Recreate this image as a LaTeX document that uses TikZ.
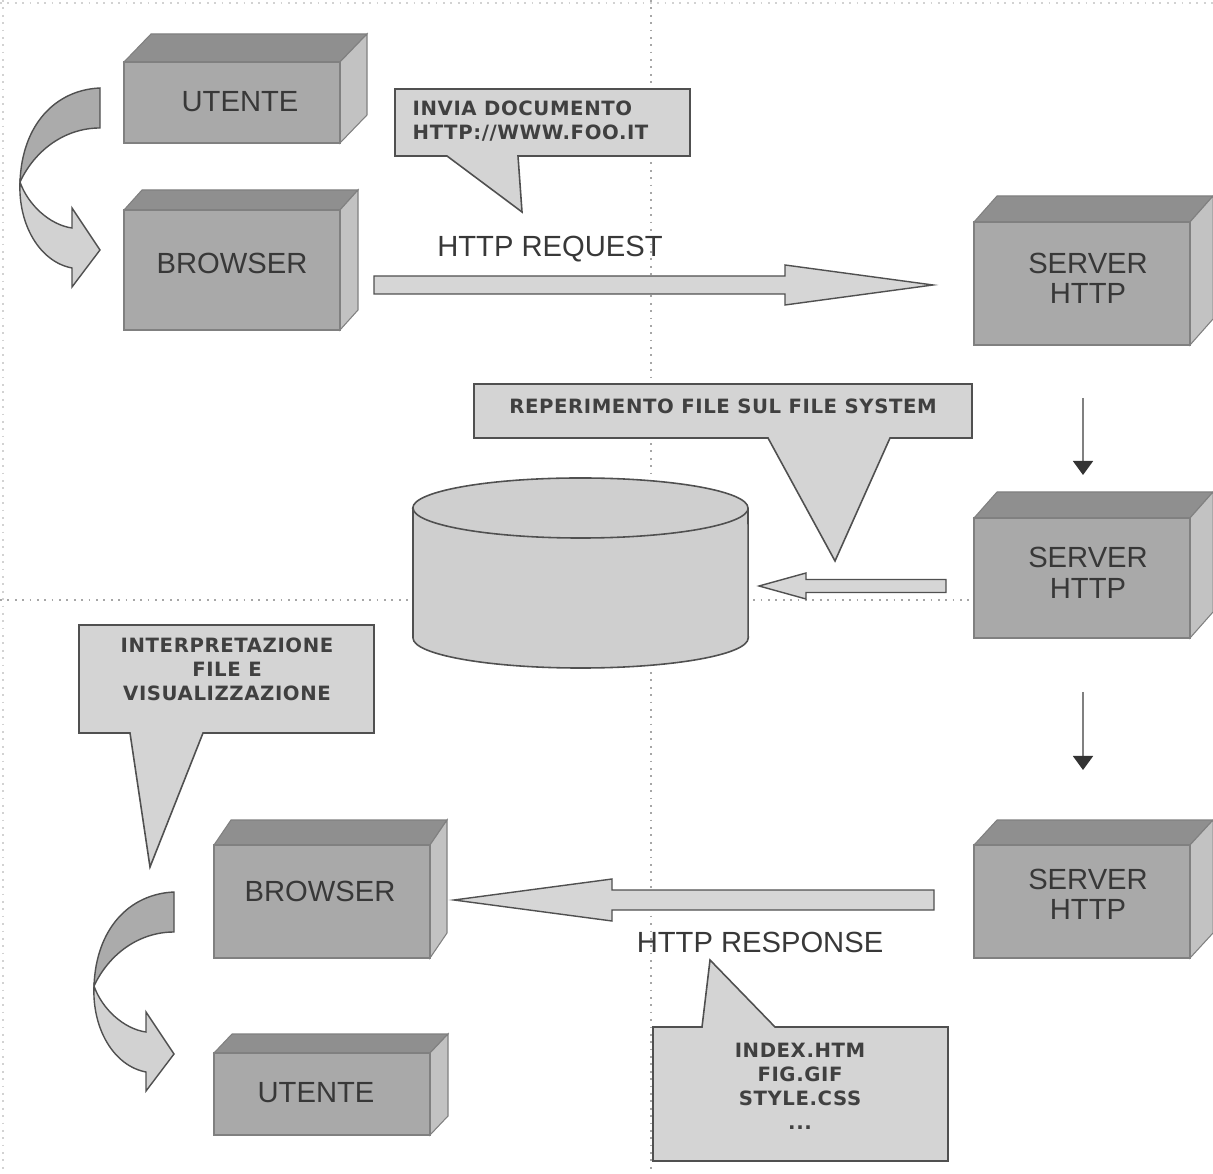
\documentclass[tikz,border=0pt]{standalone}
\usepackage{fontspec}
\setmainfont{Liberation Sans}
\newfontfamily\callfont{DejaVu Sans}[LetterSpace=3]
\usetikzlibrary{arrows.meta,calc}
\definecolor{cFront}{HTML}{A9A9A9}
\definecolor{cTop}{HTML}{8F8F8F}
\definecolor{cSide}{HTML}{C2C2C2}
\definecolor{cEdge}{HTML}{808080}
\definecolor{cCall}{HTML}{D4D4D4}
\definecolor{cOut}{HTML}{505050}
\definecolor{cArrow}{HTML}{D6D6D6}
\definecolor{cText}{HTML}{383838}
\definecolor{cCallText}{HTML}{404040}
\definecolor{cCyl}{HTML}{CFCFCF}
\definecolor{cDark}{HTML}{ABABAB}
\definecolor{cLight}{HTML}{D2D2D2}
\definecolor{cHead}{HTML}{333333}
\tikzset{
  frontface/.style={fill=cFront, draw=cEdge, line width=0.3pt, inner sep=0pt, outer sep=0pt},
  boxlabel/.style={font=\fontsize{8.3}{8.7}\selectfont, text=cText, align=center, inner sep=0pt},
  topface/.style={fill=cTop, draw=cEdge, line width=0.3pt},
  sideface/.style={fill=cSide, draw=cEdge, line width=0.3pt},
  callout/.style={fill=cCall, draw=cOut, line width=0.45pt, line join=miter},
  calltext/.style={font=\callfont\bfseries\fontsize{5.6}{6.8}\selectfont, text=cCallText, inner sep=0pt},
  blockarrow/.style={fill=cArrow, draw=cOut, line width=0.4pt, line join=miter},
  bigtext/.style={font=\fontsize{8.3}{9}\selectfont, text=cText, inner sep=0pt},
  thinarrow/.style={draw=gray, line width=0.45pt,
    -{Triangle[length=1.4mm,width=2mm,color=cHead,fill=cHead]}},
  guide/.style={draw=gray!70, line width=0.4pt, dash pattern=on 0.5pt off 1.6pt},
  faintguide/.style={draw=gray!35, line width=0.4pt, dash pattern=on 0.5pt off 1.6pt},
  cdark/.style={fill=cDark, draw=cOut, line width=0.4pt},
  clight/.style={fill=cLight, draw=cOut, line width=0.4pt},
  cyl/.style={fill=cCyl, draw=cOut, line width=0.45pt},
}
% #1 name, (#2,#3)-(#4,#5) front face, (#6,#7) depth, #8 text, #9 text offset
\newcommand\cubo[9]{%
  \filldraw[topface] (#2,#3) -- ++(#6,-#7) -- (#4+#6,#3-#7) -- (#4,#3) -- cycle;
  \filldraw[sideface] (#4,#3) -- (#4+#6,#3-#7) -- (#4+#6,#5-#7) -- (#4,#5) -- cycle;
  \node[frontface, minimum width={(#4-#2)*0.01cm}, minimum height={(#5-#3)*0.01cm}]
    (#1) at ({(#2+#4)/2},{(#3+#5)/2}) {};
  \node[boxlabel] (#1-t) at ($(#1.center)+(#9)$) {#8};}
\newcommand\curvarr[3]{%
  \begin{scope}[shift={(#2,#3)}]
    \filldraw[cdark] (100,88) .. controls (55,90) and (22,125) .. (20,182)
      .. controls (35,150) and (65,128) .. (100,128) -- cycle;
    \filldraw[clight] (20,182) .. controls (18,225) and (40,262) .. (72,268)
      -- (72,287) -- (100,250) -- (72,208) -- (72,228)
      .. controls (50,225) and (28,205) .. (20,182) -- cycle;
    \coordinate (#1) at (60,180);
  \end{scope}}
\begin{document}
\begin{tikzpicture}[x=0.01cm,y=-0.01cm]
\useasboundingbox (0,0) rectangle (1213,1174);
% guides
\draw[faintguide] (0,3) -- (1213,3);
\draw[faintguide] (3,0) -- (3,1174);
\draw[guide] (651,0) -- (651,1174);
\draw[guide] (0,600) -- (1213,600);

% boxes
\cubo{ut1}{124}{62}{340}{143}{27}{28}{UTENTE}{8,-1}
\cubo{br1}{124}{210}{340}{330}{18}{20}{BROWSER}{0,-7}
\cubo{sv1}{974}{222}{1190}{345}{23}{26}{SERVER\\HTTP}{6,-5}
\cubo{sv2}{974}{518}{1190}{638}{23}{26}{SERVER\\HTTP}{6,-5}
\cubo{sv3}{974}{845}{1190}{958}{23}{25}{SERVER\\HTTP}{6,-7}
\cubo{br2}{214}{845}{430}{958}{17}{25}{BROWSER}{-2,-10}
\cubo{ut2}{214}{1053}{430}{1135}{18}{19}{UTENTE}{-6,-1}

% curved arrows utente -> browser
\curvarr{ca1}{0}{0}
\curvarr{ca2}{74}{804}

% database cylinder
\filldraw[cyl] (413,508) -- (413,638) arc[start angle=180, end angle=360, x radius=1.675cm, y radius=0.3cm]
  -- (748,508) arc[start angle=0, end angle=180, x radius=1.675cm, y radius=0.3cm] -- cycle;
\draw[cyl, fill=none] (413,508) arc[start angle=180, end angle=360, x radius=1.675cm, y radius=0.3cm];
\coordinate (db) at (580,573);

% HTTP request arrow
\path (br1.east) ++(34,15) coordinate (reqA);
\path (sv1.west) ++(-41,1.5) coordinate (reqB);
\filldraw[blockarrow] ($(reqA)+(0,-9)$) -- ($(reqB)+(-148,-9)$) -- ($(reqB)+(-148,-20)$) -- (reqB)
  -- ($(reqB)+(-148,20)$) -- ($(reqB)+(-148,9)$) -- ($(reqA)+(0,9)$) -- cycle;
\node[bigtext] (reqt) at (550,249) {HTTP REQUEST};

% file system arrow
\path (sv2.west) ++(-28,8) coordinate (fsA);
\path (db) ++(179,13) coordinate (fsB);
\filldraw[blockarrow] ($(fsA)+(0,-6.5)$) -- ($(fsB)+(47,-6.5)$) -- ($(fsB)+(47,-13)$) -- (fsB)
  -- ($(fsB)+(47,13)$) -- ($(fsB)+(47,6.5)$) -- ($(fsA)+(0,6.5)$) -- cycle;

% HTTP response arrow
\path (sv3.west) ++(-40,-1.5) coordinate (resA);
\path (br2.east) ++(24,-1.5) coordinate (resB);
\filldraw[blockarrow] ($(resA)+(0,-10)$) -- ($(resB)+(158,-10)$) -- ($(resB)+(158,-21)$) -- (resB)
  -- ($(resB)+(158,21)$) -- ($(resB)+(158,10)$) -- ($(resA)+(0,10)$) -- cycle;
\node[bigtext] (rest) at (760,942) {HTTP RESPONSE};

% thin vertical arrows
\draw[thinarrow] ($(sv1.south)+(1,53)$) -- ($(sv2.north)+(1,-43)$);
\draw[thinarrow] ($(sv2.south)+(1,54)$) -- ($(sv3.north)+(1,-75)$);

% callouts
\filldraw[callout] (395,89) -- (690,89) -- (690,156) -- (518,156) -- (522,212) -- (447,156) -- (395,156) -- cycle;
\node[calltext, anchor=west, align=left] (c1) at (412,121) {INVIA DOCUMENTO\\HTTP://WWW.FOO.IT};

\filldraw[callout] (474,384) -- (972,384) -- (972,438) -- (890,438) -- (835,561) -- (768,438) -- (474,438) -- cycle;
\node[calltext] (c2) at (723,406) {REPERIMENTO FILE SUL FILE SYSTEM};

\filldraw[callout] (79,625) -- (374,625) -- (374,733) -- (203,733) -- (150,867) -- (130,733) -- (79,733) -- cycle;
\node[calltext, align=center] (c3) at (227,669) {INTERPRETAZIONE\\FILE E\\VISUALIZZAZIONE};

\filldraw[callout] (653,1027) -- (702,1027) -- (710,960) -- (775,1027) -- (948,1027) -- (948,1161) -- (653,1161) -- cycle;
\node[calltext, align=center] (c4) at (800,1086) {INDEX.HTM\\FIG.GIF\\STYLE.CSS\\...};
\end{tikzpicture}
\end{document}
